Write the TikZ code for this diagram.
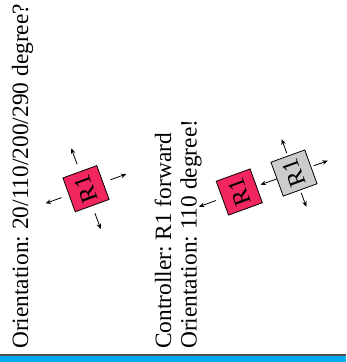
\documentclass[tikz,border=0pt]{standalone}
\usepackage{fontspec}
\setmainfont{Liberation Serif}
\usetikzlibrary{calc,arrows.meta}
\definecolor{robotred}{RGB}{242,38,94}
\definecolor{robotgray}{RGB}{204,204,204}
\definecolor{barblue}{RGB}{0,170,238}
\definecolor{bargray}{RGB}{80,80,80}
\frenchspacing

\begin{document}
\begin{tikzpicture}[x=1pt,y=1pt,
  caption/.style={font=\fontsize{23.4}{28}\selectfont, inner sep=0pt, rotate=90, anchor=base west},
  robot/.style={draw=black, line width=0.8pt, minimum size=36pt, inner sep=0pt,
    rotate=110, font=\fontsize{24}{28}\selectfont},
  move/.style={-{Stealth[length=5.5pt,width=4.5pt]}, line width=0.8pt}]
\useasboundingbox (0,0) rectangle (346,362);

% footer bar
\fill[barblue] (0,0) rectangle (346,6);
\fill[bargray] (0,6) rectangle (346,7.6);

% captions
\node[caption] (question) at (28,13) {Orientation: 20/110/200/290 degree?};
\node[caption] (ctrl) at (171,13) {Controller: R1 forward};
\node[caption] (answer) at (196.5,13) {Orientation: 110 degree!};

% single robot with its four candidate headings
\node[robot, fill=robotred] (r1) at (86,173.3) {R1};
\foreach \a in {20,110,200,290} {
  \coordinate (r1s\a) at ($(r1)+(\a:26)$);
  \coordinate (r1e\a) at ($(r1)+(\a:43)$);
  \draw[move] (r1s\a) -- (r1e\a);
}

% robot moved forward, previous pose in gray
\node[robot, fill=robotred] (r2) at (239.3,170) {R1};
\node[robot, fill=robotgray] (g) at (294,189) {R1};
\draw[move, shorten >=4pt] (g) -- (r2);
\coordinate (r2s) at ($(r2)+(200:25)$);
\coordinate (r2e) at ($(r2)+(200:43)$);
\draw[move] (r2s) -- (r2e);
\foreach \a in {20,110,290} {
  \coordinate (gs\a) at ($(g)+(\a:21)$);
  \coordinate (ge\a) at ($(g)+(\a:36)$);
  \draw[move] (gs\a) -- (ge\a);
}
\end{tikzpicture}
\end{document}
